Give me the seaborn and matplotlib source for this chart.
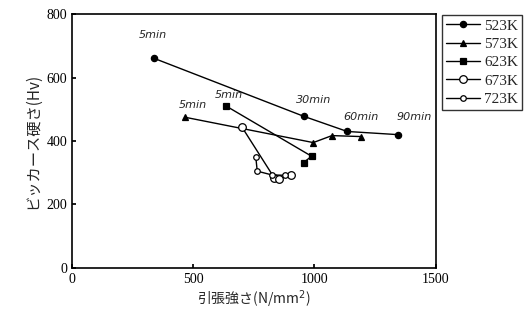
import matplotlib
matplotlib.use("Agg")
import matplotlib.pyplot as plt
import seaborn as sns
import pandas as pd

sns.set_theme(style="white")
plt.rcParams['font.family'] = ['Liberation Serif', 'Noto Sans CJK JP']

# Tensile strength (N/mm^2) vs. Vickers hardness (Hv) per tempering temperature
labels = ["523K", "573K", "623K", "673K", "723K"]
x_523 = [340, 955, 1135, 1345]
y_523 = [660, 478, 430, 420]
x_573 = [465, 995, 1072, 1190]
y_573 = [475, 395, 417, 414]
x_623 = [636, 988, 955]
y_623 = [510, 352, 332]
x_673 = [700, 835, 852, 905]
y_673 = [445, 283, 280, 294]
x_723 = [758, 764, 825, 880]
y_723 = [350, 305, 293, 292]

series = [(x_523, y_523), (x_573, y_573), (x_623, y_623), (x_673, y_673), (x_723, y_723)]
styles = [
    dict(marker="o", markersize=4.5, markerfacecolor="black"),
    dict(marker="^", markersize=4.5, markerfacecolor="black"),
    dict(marker="s", markersize=4.5, markerfacecolor="black"),
    dict(marker="o", markersize=5.5, markerfacecolor="white"),
    dict(marker="o", markersize=4, markerfacecolor="white"),
]

# Handwritten holding-time notes
notes = ["5min", "5min", "5min", "30min", "60min", "90min"]
note_x = [333, 497, 645, 995, 1192, 1410]
note_y = [734, 513, 545, 529, 476, 476]

fig = plt.figure(figsize=(5.25, 3.26), dpi=100)
ax = fig.add_axes([0.137, 0.178, 0.693, 0.779])

for lab, (xs, ys), st in zip(labels, series, styles):
    df = pd.DataFrame({"x": xs, "y": ys})
    sns.lineplot(data=df, x="x", y="y", sort=False, color="black", linewidth=1.0,
                 markeredgecolor="black", markeredgewidth=0.9, label=lab, ax=ax, **st)

for t, nx, ny in zip(notes, note_x, note_y):
    ax.text(nx, ny, t, ha="center", va="center", fontsize=8, style="italic",
            family=["DejaVu Sans"], clip_on=False)

ax.set_xlim(0, 1500)
ax.set_ylim(0, 800)
ax.set_xticks([0, 500, 1000, 1500])
ax.set_yticks([0, 200, 400, 600, 800])
ax.tick_params(axis="both", direction="in", length=3, labelsize=10, colors="black",
               bottom=True, left=True)
for sp in ax.spines.values():
    sp.set_color("black")
    sp.set_linewidth(1.2)

ax.set_xlabel("引張強さ(N/mm$^2$)", fontsize=10, family=["Noto Sans CJK JP"], labelpad=2)
ax.set_ylabel("ビッカース硬さ(Hv)", fontsize=11, family=["Noto Sans CJK JP"], labelpad=4)

leg = ax.legend(loc="upper left", bbox_to_anchor=(1.018, 0.995), frameon=True,
                fancybox=False, edgecolor="black", fontsize=11, handlelength=2.2,
                borderpad=0.25, labelspacing=0.3, handletextpad=0.3, borderaxespad=0)
leg.get_frame().set_linewidth(1.0)

fig.savefig("out.png", dpi=100)
